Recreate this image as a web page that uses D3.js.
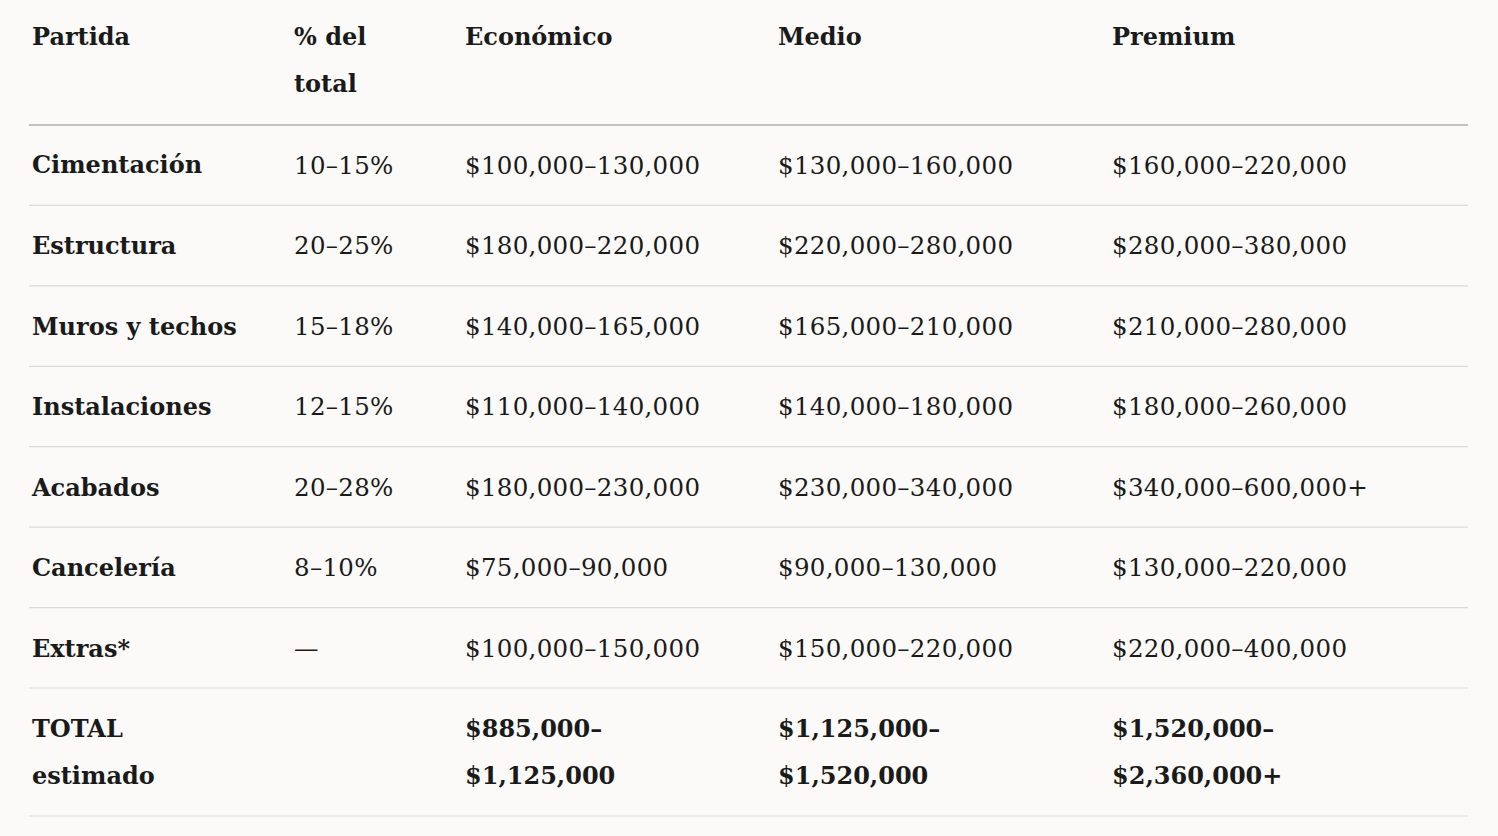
<!DOCTYPE html>
<html><head><meta charset="utf-8">
<script src="https://cdn.jsdelivr.net/npm/d3@7"></script>
<style>body{margin:0;background:#fbfaf8;}</style>
</head><body>
<script>
const headers = [["Partida"],["% del","total"],["Económico"],["Medio"],["Premium"]];
const partidas = ["Cimentación","Estructura","Muros y techos","Instalaciones","Acabados","Cancelería","Extras*"];
const porcentajes = ["10–15%","20–25%","15–18%","12–15%","20–28%","8–10%","—"];
const economico = ["$100,000–130,000","$180,000–220,000","$140,000–165,000","$110,000–140,000","$180,000–230,000","$75,000–90,000","$100,000–150,000"];
const medio = ["$130,000–160,000","$220,000–280,000","$165,000–210,000","$140,000–180,000","$230,000–340,000","$90,000–130,000","$150,000–220,000"];
const premium = ["$160,000–220,000","$280,000–380,000","$210,000–280,000","$180,000–260,000","$340,000–600,000+","$130,000–220,000","$220,000–400,000"];
const totals = [["TOTAL","estimado"],[""],["$885,000–","$1,125,000"],["$1,125,000–","$1,520,000"],["$1,520,000–","$2,360,000+"]];

const W=1498,H=836;
const svg=d3.select("body").append("svg").attr("width",W).attr("height",H)
  .style("font-family","'DejaVu Serif', serif").style("fill","#1a1a1a");
const colX=[32,294,465,778,1112];
const rowY=d3.scaleLinear().domain([0,7]).range([165,729]);
const lineY=d3.scaleLinear().domain([0,7]).range([125,688]);
const fs=24;

headers.forEach((h,i)=>h.forEach((t,j)=>svg.append("text").attr("x",colX[i]).attr("y",37+j*47).attr("dy","0.35em")
  .attr("font-size",fs).attr("font-weight","bold").text(t)));
d3.range(8).forEach(i=>svg.append("line").attr("x1",29).attr("x2",1468).attr("y1",lineY(i)).attr("y2",lineY(i))
  .attr("stroke",i===0?"#8a8a8a":"#dcdad6").attr("stroke-width",1.2));
svg.append("line").attr("x1",29).attr("x2",1468).attr("y1",816).attr("y2",816).attr("stroke","#dcdad6").attr("stroke-width",1.2);
const cols=[partidas,porcentajes,economico,medio,premium];
partidas.forEach((_,r)=>cols.forEach((c,i)=>svg.append("text").attr("x",colX[i]).attr("y",rowY(r)).attr("dy","0.35em")
  .attr("font-size",i===0?fs:24.5).attr("letter-spacing",i===0?0:0.3).attr("font-weight",i===0?"bold":"normal").text(c[r])));
totals.forEach((t,i)=>t.forEach((s,j)=>svg.append("text").attr("x",colX[i]).attr("y",729+j*47).attr("dy","0.35em")
  .attr("font-size",fs).attr("font-weight","bold").text(s)));
</script>
</body></html>
